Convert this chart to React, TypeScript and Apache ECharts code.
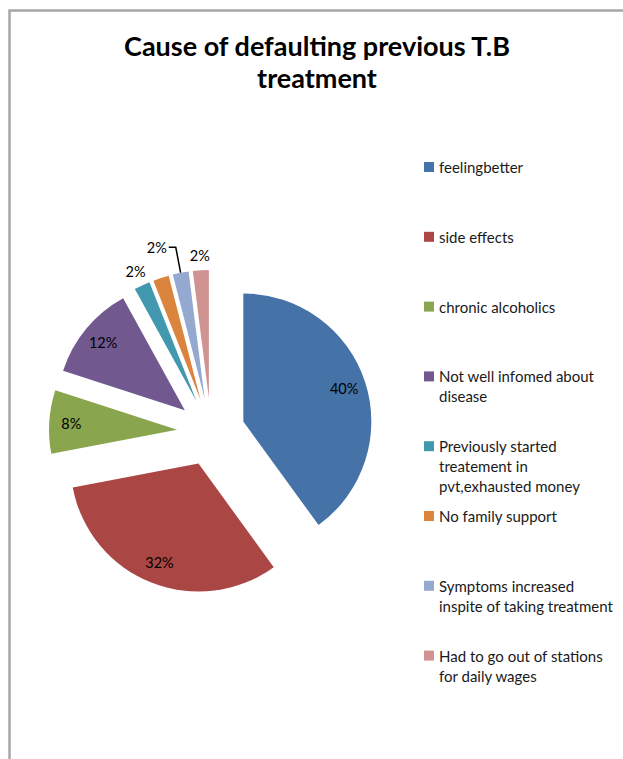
import React, { useEffect, useRef } from "react";
import * as echarts from "echarts";

const categories = [
  "feelingbetter",
  "side effects",
  "chronic alcoholics",
  "Not well infomed about\ndisease",
  "Previously started\ntreatement in\npvt,exhausted money",
  "No family support",
  "Symptoms increased\ninspite of taking treatment",
  "Had to go out of stations\nfor daily wages",
];
const values = [40, 32, 8, 12, 2, 2, 2, 2];
const colors = ["#4572A7", "#AA4643", "#89A54E", "#71588F", "#4198AF", "#DB843D", "#93A9CF", "#D19392"];
const insideLabelIdx = [0, 1, 2, 3];
const outerLabelIdx = [4, 5, 7];
const leaderLabelIdx = [6];

const FONT = "Lato, 'Open Sans', sans-serif";
const CENTER = [211, 432];
const R = 128;
const OFFSET = 34;

function pctText(p: any) {
  return Math.round(p.percent) + "%";
}

export default function App() {
  const ref = useRef<HTMLDivElement>(null);
  useEffect(() => {
    if (!ref.current) return;
    const chart = echarts.init(ref.current, undefined, { renderer: "svg" });

    const common = {
      type: "pie",
      center: CENTER,
      startAngle: 90,
      clockwise: true,
      selectedMode: "multiple",
      selectedOffset: OFFSET,
      avoidLabelOverlap: false,
      emphasis: { disabled: true },
      animation: false,
    };

    const mainData = categories.map((name, i) => ({
      name,
      value: values[i],
      selected: true,
      itemStyle: { color: colors[i] },
      label: leaderLabelIdx.includes(i)
        ? {
            show: true,
            position: "outside",
            formatter: pctText,
            color: "#000",
            fontFamily: FONT,
            fontSize: 14.5,
            distanceToLabelLine: 2,
          }
        : { show: false },
      labelLine: leaderLabelIdx.includes(i)
        ? { show: true, length: 26, length2: 7, smooth: false, lineStyle: { color: "#000", width: 1.5 } }
        : { show: false },
    }));

    const ghost = (idxs: number[]) =>
      categories.map((name, i) => ({
        name,
        value: values[i],
        selected: true,
        label: { show: idxs.includes(i) },
      }));

    const legendLineH = 20;
    const legends = categories.map((name, i) => {
      const n = name.split("\n").length;
      const firstY = 167 + i * 69.8;
      return {
        show: true,
        orient: "vertical",
        left: 424,
        top: firstY - ((2 * n - 1) * legendLineH) / 2,
        padding: 0,
        itemWidth: 10,
        itemHeight: 10,
        itemGap: 0,
        icon: "rect",
        selectedMode: false,
        data: [name],
        formatter: (nm: string) => {
          const k = nm.split("\n").length;
          return "\n".repeat(k - 1) + nm;
        },
        textStyle: { fontFamily: FONT, fontSize: 15, color: "#1a1a1a", lineHeight: legendLineH },
      };
    });

    chart.setOption({
      animation: false,
      title: {
        text: "Cause of defaulting previous T.B\ntreatment",
        left: 317,
        top: 29,
        textAlign: "center",
        padding: 0,
        textStyle: { fontFamily: FONT, fontWeight: "bold", fontSize: 27, lineHeight: 32, color: "#000" },
      },
      legend: legends,
      graphic: [
        {
          type: "polyline",
          shape: { points: [[9.5, 759], [9.5, 10.5], [623, 10.5]] },
          style: { stroke: "#a6a6a6", lineWidth: 2.5, fill: "none" },
          silent: true,
        },
      ],
      series: [
        {
          ...common,
          name: "main",
          radius: [0, R],
          itemStyle: { borderWidth: 0 },
          data: mainData,
        },
        {
          ...common,
          name: "insideLabels",
          radius: [78, R],
          silent: true,
          legendHoverLink: false,
          itemStyle: { color: "rgba(0,0,0,0)", borderWidth: 0 },
          label: { position: "inside", formatter: pctText, color: "#000", fontFamily: FONT, fontSize: 14.5 },
          labelLine: { show: false },
          data: ghost(insideLabelIdx),
        },
        {
          ...common,
          name: "outerLabels",
          radius: [R, R + 24],
          silent: true,
          legendHoverLink: false,
          itemStyle: { color: "rgba(0,0,0,0)", borderWidth: 0 },
          label: { position: "inside", formatter: pctText, color: "#000", fontFamily: FONT, fontSize: 14.5 },
          labelLine: { show: false },
          data: ghost(outerLabelIdx),
        },
      ],
    });
    return () => chart.dispose();
  }, []);

  return (
    <div
      ref={ref}
      style={{ position: "absolute", left: 0, top: 0, width: 623, height: 759, background: "#fff" }}
    />
  );
}
